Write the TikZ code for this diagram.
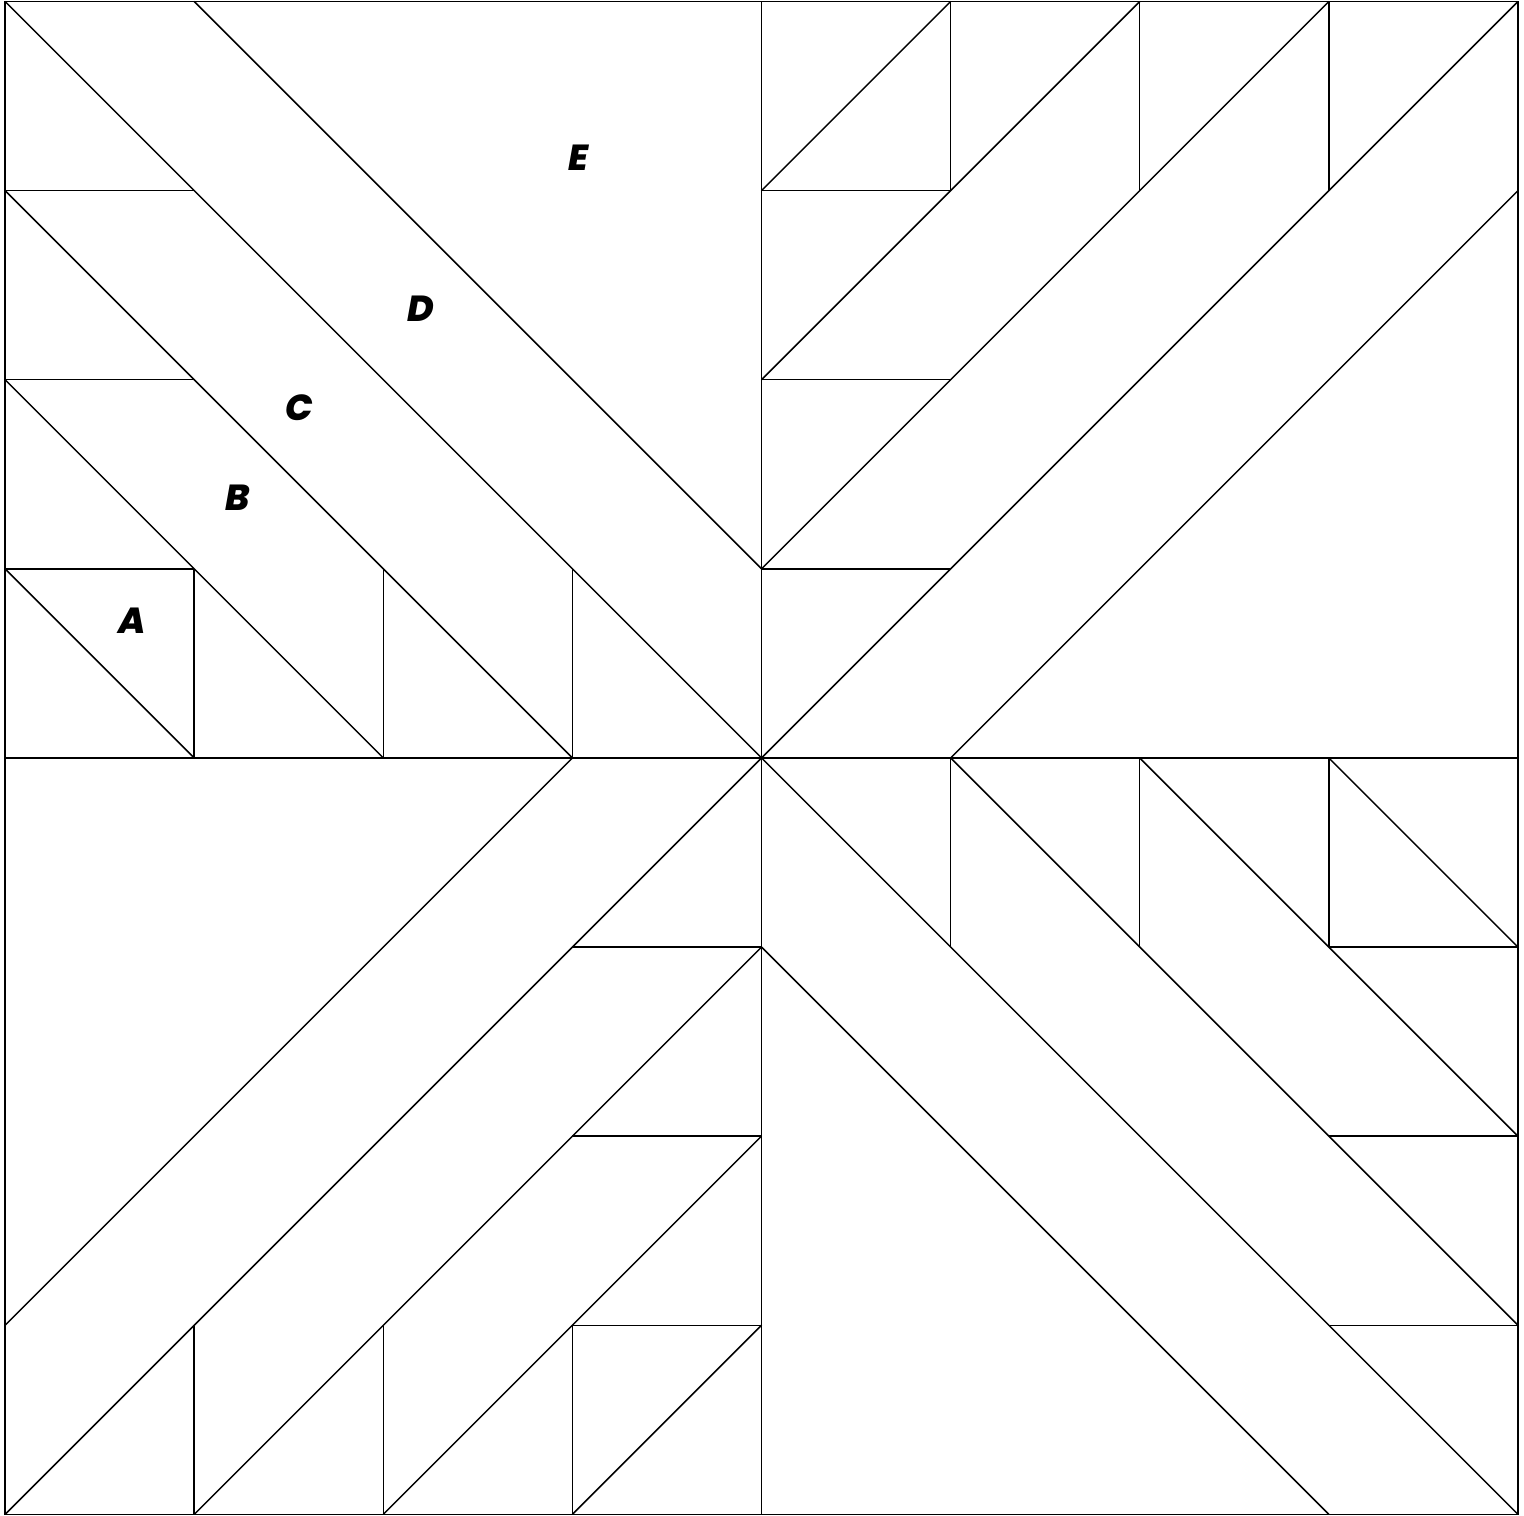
\documentclass[tikz,border=0pt]{standalone}
\usepackage{fontspec}
\newfontfamily\lblfont{Poppins}[BoldItalicFont={Poppins ExtraBold Italic}]
\begin{document}
\begin{tikzpicture}[x=2cm,y=2cm,line width=0.45pt,
  lbl/.style={font=\lblfont\bfseries\itshape\fontsize{10.9}{12}\selectfont}]
  \useasboundingbox (-4.027,-4.008) rectangle (4.032,4.008);
  \draw (-4,-4) rectangle (4,4);
  % one quarter of the block, turned four times
  \foreach \r in {0,-90,-180,-270}{
    \begin{scope}[rotate=\r]
      \draw (-4,0)--(0,0)--(0,4);
      \draw (-4,4)--(0,0) (-3,4)--(0,1) (-4,3)--(-1,0) (-4,2)--(-2,0) (-4,1)--(-3,0);
      \foreach \y in {1,2,3} \draw (-4,\y)--(-3,\y);
      \foreach \x in {-3,-2,-1} \draw (\x,1)--(\x,0);
    \end{scope}
  }
  \foreach \x/\y/\txt [count=\i] in {-3.33/0.725/A,-2.77/1.376/B,-2.445/1.852/C,-1.80/2.376/D,-0.97/3.175/E}
    \node[lbl] (l\i) at (\x,\y) {\txt};
\end{tikzpicture}
\end{document}
